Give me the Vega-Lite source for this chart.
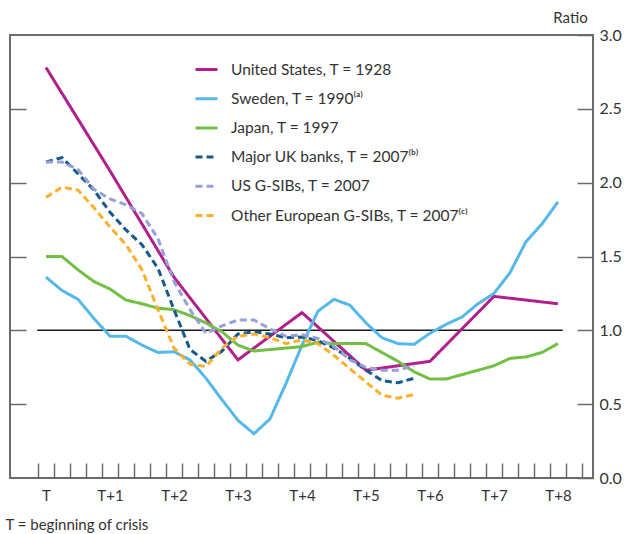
{
  "$schema": "https://vega.github.io/schema/vega-lite/v6.json",
  "width": 583,
  "height": 443,
  "autosize": {"type": "none"},
  "padding": {"left": 10, "top": 35, "right": 32, "bottom": 56},
  "background": "white",
  "config": {
    "view": {"stroke": "#6b6b6b", "strokeWidth": 2},
    "font": "Lato",
    "axis": {"grid": false, "domain": false, "labelColor": "#333333", "tickColor": "#6b6b6b", "tickWidth": 1.5, "labelFontSize": 15, "titleColor": "#333333", "titleFontWeight": "normal", "titleFont": "Lato", "labelFont": "Lato"},
    "legend": {"labelFont": "Lato"}
  },
  "datasets": {
    "series": [
      {"s": "United States, T = 1928", "q": 0, "v": 2.78}, {"s": "United States, T = 1928", "q": 4, "v": 2.08}, {"s": "United States, T = 1928", "q": 8, "v": 1.36}, {"s": "United States, T = 1928", "q": 12, "v": 0.80}, {"s": "United States, T = 1928", "q": 16, "v": 1.12}, {"s": "United States, T = 1928", "q": 20, "v": 0.73}, {"s": "United States, T = 1928", "q": 24, "v": 0.79}, {"s": "United States, T = 1928", "q": 28, "v": 1.23}, {"s": "United States, T = 1928", "q": 32, "v": 1.18},

      {"s": "Sweden, T = 1990⁽ᵃ⁾", "q": 0, "v": 1.36}, {"s": "Sweden, T = 1990⁽ᵃ⁾", "q": 1, "v": 1.27}, {"s": "Sweden, T = 1990⁽ᵃ⁾", "q": 2, "v": 1.21}, {"s": "Sweden, T = 1990⁽ᵃ⁾", "q": 3, "v": 1.08}, {"s": "Sweden, T = 1990⁽ᵃ⁾", "q": 4, "v": 0.96}, {"s": "Sweden, T = 1990⁽ᵃ⁾", "q": 5, "v": 0.96}, {"s": "Sweden, T = 1990⁽ᵃ⁾", "q": 6, "v": 0.90}, {"s": "Sweden, T = 1990⁽ᵃ⁾", "q": 7, "v": 0.85}, {"s": "Sweden, T = 1990⁽ᵃ⁾", "q": 8, "v": 0.855}, {"s": "Sweden, T = 1990⁽ᵃ⁾", "q": 9, "v": 0.80}, {"s": "Sweden, T = 1990⁽ᵃ⁾", "q": 10, "v": 0.675}, {"s": "Sweden, T = 1990⁽ᵃ⁾", "q": 11, "v": 0.53}, {"s": "Sweden, T = 1990⁽ᵃ⁾", "q": 12, "v": 0.39}, {"s": "Sweden, T = 1990⁽ᵃ⁾", "q": 13, "v": 0.30}, {"s": "Sweden, T = 1990⁽ᵃ⁾", "q": 14, "v": 0.40}, {"s": "Sweden, T = 1990⁽ᵃ⁾", "q": 15, "v": 0.64}, {"s": "Sweden, T = 1990⁽ᵃ⁾", "q": 16, "v": 0.90}, {"s": "Sweden, T = 1990⁽ᵃ⁾", "q": 17, "v": 1.13}, {"s": "Sweden, T = 1990⁽ᵃ⁾", "q": 18, "v": 1.21}, {"s": "Sweden, T = 1990⁽ᵃ⁾", "q": 19, "v": 1.17}, {"s": "Sweden, T = 1990⁽ᵃ⁾", "q": 20, "v": 1.05}, {"s": "Sweden, T = 1990⁽ᵃ⁾", "q": 21, "v": 0.95}, {"s": "Sweden, T = 1990⁽ᵃ⁾", "q": 22, "v": 0.91}, {"s": "Sweden, T = 1990⁽ᵃ⁾", "q": 23, "v": 0.905}, {"s": "Sweden, T = 1990⁽ᵃ⁾", "q": 24, "v": 0.98}, {"s": "Sweden, T = 1990⁽ᵃ⁾", "q": 25, "v": 1.04}, {"s": "Sweden, T = 1990⁽ᵃ⁾", "q": 26, "v": 1.09}, {"s": "Sweden, T = 1990⁽ᵃ⁾", "q": 27, "v": 1.18}, {"s": "Sweden, T = 1990⁽ᵃ⁾", "q": 28, "v": 1.25}, {"s": "Sweden, T = 1990⁽ᵃ⁾", "q": 29, "v": 1.39}, {"s": "Sweden, T = 1990⁽ᵃ⁾", "q": 30, "v": 1.60}, {"s": "Sweden, T = 1990⁽ᵃ⁾", "q": 31, "v": 1.72}, {"s": "Sweden, T = 1990⁽ᵃ⁾", "q": 32, "v": 1.87},

      {"s": "Japan, T = 1997", "q": 0, "v": 1.50}, {"s": "Japan, T = 1997", "q": 1, "v": 1.50}, {"s": "Japan, T = 1997", "q": 2, "v": 1.41}, {"s": "Japan, T = 1997", "q": 3, "v": 1.33}, {"s": "Japan, T = 1997", "q": 4, "v": 1.28}, {"s": "Japan, T = 1997", "q": 5, "v": 1.205}, {"s": "Japan, T = 1997", "q": 6, "v": 1.18}, {"s": "Japan, T = 1997", "q": 7, "v": 1.15}, {"s": "Japan, T = 1997", "q": 8, "v": 1.14}, {"s": "Japan, T = 1997", "q": 9, "v": 1.10}, {"s": "Japan, T = 1997", "q": 10, "v": 1.05}, {"s": "Japan, T = 1997", "q": 11, "v": 0.99}, {"s": "Japan, T = 1997", "q": 12, "v": 0.90}, {"s": "Japan, T = 1997", "q": 13, "v": 0.86}, {"s": "Japan, T = 1997", "q": 14, "v": 0.87}, {"s": "Japan, T = 1997", "q": 15, "v": 0.88}, {"s": "Japan, T = 1997", "q": 16, "v": 0.89}, {"s": "Japan, T = 1997", "q": 17, "v": 0.92}, {"s": "Japan, T = 1997", "q": 18, "v": 0.91}, {"s": "Japan, T = 1997", "q": 19, "v": 0.91}, {"s": "Japan, T = 1997", "q": 20, "v": 0.91}, {"s": "Japan, T = 1997", "q": 21, "v": 0.85}, {"s": "Japan, T = 1997", "q": 22, "v": 0.79}, {"s": "Japan, T = 1997", "q": 23, "v": 0.72}, {"s": "Japan, T = 1997", "q": 24, "v": 0.67}, {"s": "Japan, T = 1997", "q": 25, "v": 0.67}, {"s": "Japan, T = 1997", "q": 26, "v": 0.70}, {"s": "Japan, T = 1997", "q": 27, "v": 0.73}, {"s": "Japan, T = 1997", "q": 28, "v": 0.76}, {"s": "Japan, T = 1997", "q": 29, "v": 0.81}, {"s": "Japan, T = 1997", "q": 30, "v": 0.82}, {"s": "Japan, T = 1997", "q": 31, "v": 0.85}, {"s": "Japan, T = 1997", "q": 32, "v": 0.91},

      {"s": "Major UK banks, T = 2007⁽ᵇ⁾", "q": 0, "v": 2.14}, {"s": "Major UK banks, T = 2007⁽ᵇ⁾", "q": 1, "v": 2.17}, {"s": "Major UK banks, T = 2007⁽ᵇ⁾", "q": 2, "v": 2.06}, {"s": "Major UK banks, T = 2007⁽ᵇ⁾", "q": 3, "v": 1.95}, {"s": "Major UK banks, T = 2007⁽ᵇ⁾", "q": 4, "v": 1.80}, {"s": "Major UK banks, T = 2007⁽ᵇ⁾", "q": 5, "v": 1.68}, {"s": "Major UK banks, T = 2007⁽ᵇ⁾", "q": 6, "v": 1.58}, {"s": "Major UK banks, T = 2007⁽ᵇ⁾", "q": 7, "v": 1.42}, {"s": "Major UK banks, T = 2007⁽ᵇ⁾", "q": 8, "v": 1.14}, {"s": "Major UK banks, T = 2007⁽ᵇ⁾", "q": 9, "v": 0.87}, {"s": "Major UK banks, T = 2007⁽ᵇ⁾", "q": 10, "v": 0.79}, {"s": "Major UK banks, T = 2007⁽ᵇ⁾", "q": 11, "v": 0.86}, {"s": "Major UK banks, T = 2007⁽ᵇ⁾", "q": 12, "v": 0.975}, {"s": "Major UK banks, T = 2007⁽ᵇ⁾", "q": 13, "v": 0.99}, {"s": "Major UK banks, T = 2007⁽ᵇ⁾", "q": 14, "v": 0.975}, {"s": "Major UK banks, T = 2007⁽ᵇ⁾", "q": 15, "v": 0.95}, {"s": "Major UK banks, T = 2007⁽ᵇ⁾", "q": 16, "v": 0.955}, {"s": "Major UK banks, T = 2007⁽ᵇ⁾", "q": 17, "v": 0.93}, {"s": "Major UK banks, T = 2007⁽ᵇ⁾", "q": 18, "v": 0.88}, {"s": "Major UK banks, T = 2007⁽ᵇ⁾", "q": 19, "v": 0.81}, {"s": "Major UK banks, T = 2007⁽ᵇ⁾", "q": 20, "v": 0.73}, {"s": "Major UK banks, T = 2007⁽ᵇ⁾", "q": 21, "v": 0.66}, {"s": "Major UK banks, T = 2007⁽ᵇ⁾", "q": 22, "v": 0.645}, {"s": "Major UK banks, T = 2007⁽ᵇ⁾", "q": 23, "v": 0.675},

      {"s": "US G-SIBs, T = 2007", "q": 0, "v": 2.14}, {"s": "US G-SIBs, T = 2007", "q": 1, "v": 2.14}, {"s": "US G-SIBs, T = 2007", "q": 2, "v": 2.09}, {"s": "US G-SIBs, T = 2007", "q": 3, "v": 1.955}, {"s": "US G-SIBs, T = 2007", "q": 4, "v": 1.89}, {"s": "US G-SIBs, T = 2007", "q": 5, "v": 1.85}, {"s": "US G-SIBs, T = 2007", "q": 6, "v": 1.79}, {"s": "US G-SIBs, T = 2007", "q": 7, "v": 1.62}, {"s": "US G-SIBs, T = 2007", "q": 8, "v": 1.33}, {"s": "US G-SIBs, T = 2007", "q": 9, "v": 1.14}, {"s": "US G-SIBs, T = 2007", "q": 10, "v": 0.98}, {"s": "US G-SIBs, T = 2007", "q": 11, "v": 1.03}, {"s": "US G-SIBs, T = 2007", "q": 12, "v": 1.07}, {"s": "US G-SIBs, T = 2007", "q": 13, "v": 1.07}, {"s": "US G-SIBs, T = 2007", "q": 14, "v": 1.01}, {"s": "US G-SIBs, T = 2007", "q": 15, "v": 0.96}, {"s": "US G-SIBs, T = 2007", "q": 16, "v": 0.97}, {"s": "US G-SIBs, T = 2007", "q": 17, "v": 0.945}, {"s": "US G-SIBs, T = 2007", "q": 18, "v": 0.89}, {"s": "US G-SIBs, T = 2007", "q": 19, "v": 0.80}, {"s": "US G-SIBs, T = 2007", "q": 20, "v": 0.75}, {"s": "US G-SIBs, T = 2007", "q": 21, "v": 0.73}, {"s": "US G-SIBs, T = 2007", "q": 22, "v": 0.73}, {"s": "US G-SIBs, T = 2007", "q": 23, "v": 0.76},

      {"s": "Other European G-SIBs, T = 2007⁽ᶜ⁾", "q": 0, "v": 1.90}, {"s": "Other European G-SIBs, T = 2007⁽ᶜ⁾", "q": 1, "v": 1.97}, {"s": "Other European G-SIBs, T = 2007⁽ᶜ⁾", "q": 2, "v": 1.95}, {"s": "Other European G-SIBs, T = 2007⁽ᶜ⁾", "q": 3, "v": 1.83}, {"s": "Other European G-SIBs, T = 2007⁽ᶜ⁾", "q": 4, "v": 1.70}, {"s": "Other European G-SIBs, T = 2007⁽ᶜ⁾", "q": 5, "v": 1.58}, {"s": "Other European G-SIBs, T = 2007⁽ᶜ⁾", "q": 6, "v": 1.41}, {"s": "Other European G-SIBs, T = 2007⁽ᶜ⁾", "q": 7, "v": 1.14}, {"s": "Other European G-SIBs, T = 2007⁽ᶜ⁾", "q": 8, "v": 0.88}, {"s": "Other European G-SIBs, T = 2007⁽ᶜ⁾", "q": 9, "v": 0.77}, {"s": "Other European G-SIBs, T = 2007⁽ᶜ⁾", "q": 10, "v": 0.755}, {"s": "Other European G-SIBs, T = 2007⁽ᶜ⁾", "q": 11, "v": 0.88}, {"s": "Other European G-SIBs, T = 2007⁽ᶜ⁾", "q": 12, "v": 0.96}, {"s": "Other European G-SIBs, T = 2007⁽ᶜ⁾", "q": 13, "v": 0.975}, {"s": "Other European G-SIBs, T = 2007⁽ᶜ⁾", "q": 14, "v": 0.95}, {"s": "Other European G-SIBs, T = 2007⁽ᶜ⁾", "q": 15, "v": 0.91}, {"s": "Other European G-SIBs, T = 2007⁽ᶜ⁾", "q": 16, "v": 0.935}, {"s": "Other European G-SIBs, T = 2007⁽ᶜ⁾", "q": 17, "v": 0.91}, {"s": "Other European G-SIBs, T = 2007⁽ᶜ⁾", "q": 18, "v": 0.83}, {"s": "Other European G-SIBs, T = 2007⁽ᶜ⁾", "q": 19, "v": 0.74}, {"s": "Other European G-SIBs, T = 2007⁽ᶜ⁾", "q": 20, "v": 0.65}, {"s": "Other European G-SIBs, T = 2007⁽ᶜ⁾", "q": 21, "v": 0.56}, {"s": "Other European G-SIBs, T = 2007⁽ᶜ⁾", "q": 22, "v": 0.54}, {"s": "Other European G-SIBs, T = 2007⁽ᶜ⁾", "q": 23, "v": 0.565}
    ],
    "ref": [{"start": -0.55, "end": 32.3, "v": 1}]
  },
  "layer": [
    {
      "data": {"name": "ref"},
      "mark": {"type": "rule", "color": "#1a1a1a", "strokeWidth": 1.5},
      "encoding": {
        "x": {"field": "start", "type": "quantitative", "scale": {"domain": [-2.25, 34.19], "nice": false, "zero": false}, "axis": null},
        "x2": {"field": "end"},
        "y": {"field": "v", "type": "quantitative", "scale": {"domain": [0, 3], "nice": false}, "axis": {"orient": "left", "values": [0.5, 1, 1.5, 2, 2.5], "labels": false, "tickSize": -16, "title": null}}
      }
    },
    {
      "data": {"name": "series"},
      "mark": {"type": "line", "strokeWidth": 3},
      "encoding": {
        "x": {"field": "q", "type": "quantitative", "scale": {"domain": [-2.25, 34.19], "nice": false, "zero": false},
          "axis": {"orient": "bottom", "values": [-0.5, 0.5, 1.5, 2.5, 3.5, 4.5, 5.5, 6.5, 7.5, 8.5, 9.5, 10.5, 11.5, 12.5, 13.5, 14.5, 15.5, 16.5, 17.5, 18.5, 19.5, 20.5, 21.5, 22.5, 23.5, 24.5, 25.5, 26.5, 27.5, 28.5, 29.5, 30.5, 31.5, 32.5, 33.5],
            "labelExpr": "(datum.value + 0.5) % 4 == 0 && datum.value < 32 ? ((datum.value + 0.5) == 0 ? 'T' : 'T+' + ((datum.value + 0.5) / 4)) : ''",
            "labelOffset": 8, "labelOverlap": false, "labelFlush": false, "tickSize": -15, "labelPadding": 25,
            "title": "T = beginning of crisis", "titleX": -5, "titleY": 46, "titleAlign": "left", "titleBaseline": "middle", "titleFontSize": 15}},
        "y": {"field": "v", "type": "quantitative", "scale": {"domain": [0, 3], "nice": false},
          "axis": {"orient": "right", "values": [0, 0.5, 1, 1.5, 2, 2.5, 3], "format": ".1f", "tickSize": -16, "labelPadding": 22, "labelFontSize": 16,
            "title": "Ratio", "titleAngle": 0, "titleX": -23, "titleY": -18, "titleAlign": "center", "titleBaseline": "middle", "titleFontSize": 15}},
        "color": {"field": "s", "type": "nominal",
          "scale": {"domain": ["United States, T = 1928", "Sweden, T = 1990⁽ᵃ⁾", "Japan, T = 1997", "Major UK banks, T = 2007⁽ᵇ⁾", "US G-SIBs, T = 2007", "Other European G-SIBs, T = 2007⁽ᶜ⁾"],
            "range": ["#b0208c", "#55b8e8", "#72c043", "#17598a", "#97a0d8", "#fbb02c"]},
          "legend": {"orient": "none", "legendX": 184, "legendY": 22, "title": null, "labelFontSize": 15.5, "labelColor": "#333333", "symbolType": "stroke", "symbolSize": 484, "symbolStrokeWidth": 3, "labelOffset": 12, "rowPadding": 8.2, "labelLimit": 400}},
        "strokeDash": {"field": "s", "type": "nominal",
          "scale": {"domain": ["United States, T = 1928", "Sweden, T = 1990⁽ᵃ⁾", "Japan, T = 1997", "Major UK banks, T = 2007⁽ᵇ⁾", "US G-SIBs, T = 2007", "Other European G-SIBs, T = 2007⁽ᶜ⁾"],
            "range": [[1, 0], [1, 0], [1, 0], [7, 4], [7, 4], [7, 4]]},
          "legend": {"orient": "none", "legendX": 184, "legendY": 22, "title": null, "labelFontSize": 15.5, "labelColor": "#333333", "symbolType": "stroke", "symbolSize": 484, "symbolStrokeWidth": 3, "labelOffset": 12, "rowPadding": 8.2, "labelLimit": 400}}
      }
    }
  ],
  "resolve": {"axis": {"x": "independent", "y": "independent"}}
}
